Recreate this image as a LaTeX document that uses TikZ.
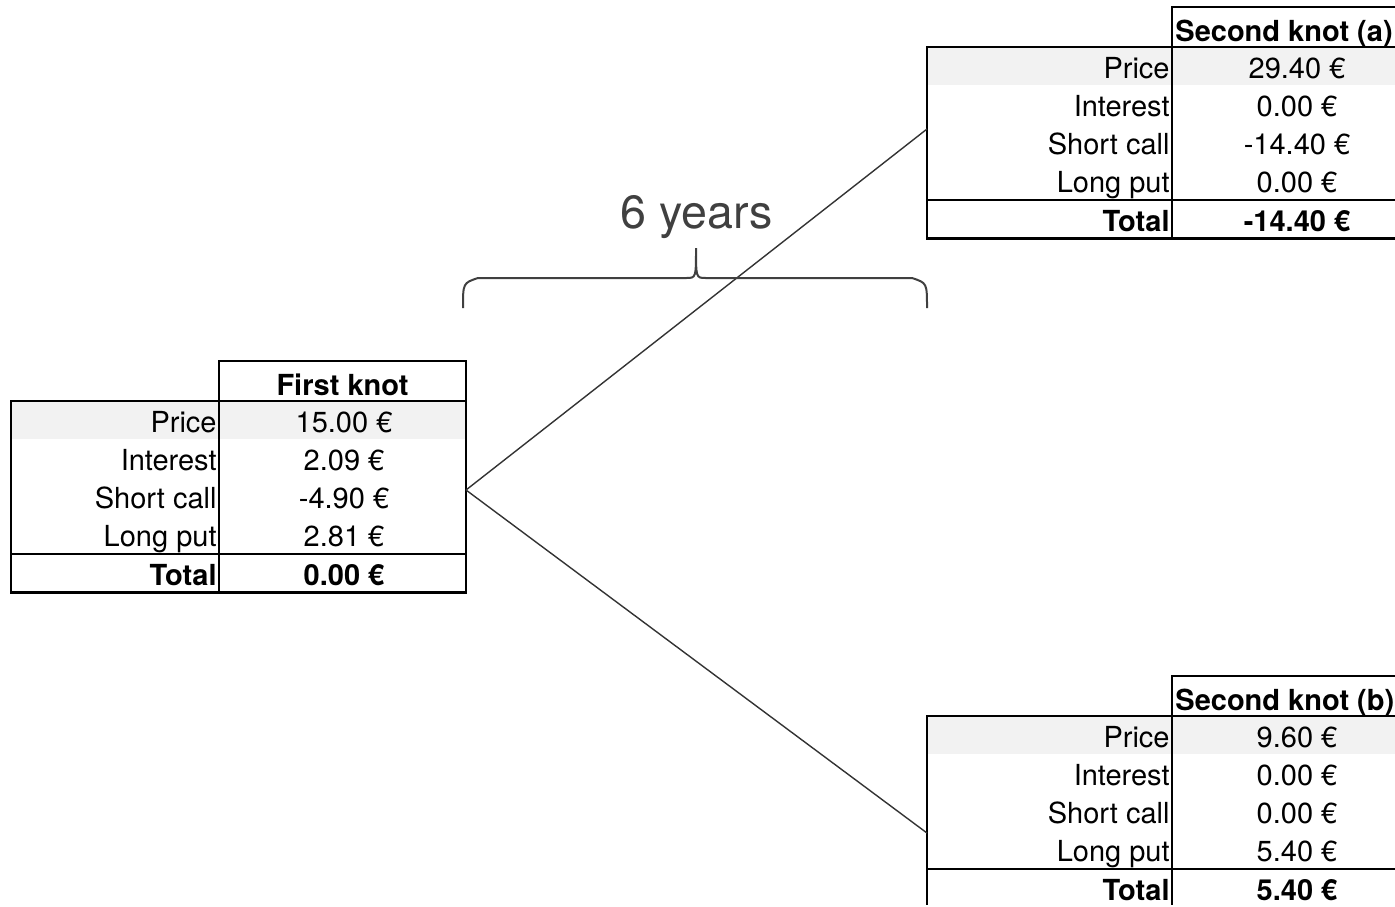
\documentclass[tikz,border=0pt]{standalone}
\usepackage{fontspec}
\setmainfont{TeX Gyre Heros}
\usetikzlibrary{positioning}
\definecolor{rowgray}{HTML}{F2F2F2}
\definecolor{bracegray}{HTML}{404040}

\begin{document}
\begin{tikzpicture}[x=0.5pt, y=-0.5pt,
    tableline/.style={line width=1.4pt, draw=black},
    totalline/.style={line width=0.8pt, draw=black},
    cell/.style={inner sep=0pt, font=\fontsize{14.5}{17}\selectfont},
    rowlabel/.style={cell, anchor=base east},
    rowvalue/.style={cell, anchor=base},
    boldcell/.style={font=\fontsize{14.5}{17}\selectfont\bfseries},
    branch/.style={line width=0.7pt, draw=black!80},
    bracket/.style={line width=1pt, draw=bracegray}]
\useasboundingbox (0,0) rectangle (1395,906);
\clip (0,0) rectangle (1395,904);

% #1 left edge, #2 column line, #3 top, #4-#7 rows, #8 total
\newcommand{\knottable}[8]{
\fill[rowgray] (#1,#3+40) rectangle (#2+247,#3+78.3);
\draw[tableline] (#2,#3) rectangle (#2+247,#3+40);
\draw[tableline] (#1,#3+40) rectangle (#2+247,#3+231.5);
\draw[tableline] (#2,#3+40) -- (#2,#3+231.5);
\draw[totalline] (#1,#3+193.2) -- (#2+247,#3+193.2);
\foreach \lbl/\val [count=\i from 0] in {Price/#4,Interest/#5,Short call/#6,Long put/#7}
{
    \node[rowlabel] at (#2-2,#3+71+38.3*\i) {\lbl};
    \node[rowvalue] at (#2+125,#3+71+38.3*\i) {\val};
}
\node[rowlabel,boldcell] at (#2-2,#3+224.2) {Total};
\node[rowvalue,boldcell] at (#2+125,#3+224.2) {#8};
}

\knottable{11}{219}{361}{15.00 €}{2.09 €}{-4.90 €}{2.81 €}{0.00 €}
\knottable{927}{1172}{7}{29.40 €}{0.00 €}{-14.40 €}{0.00 €}{-14.40 €}
\knottable{927}{1172}{676}{9.60 €}{0.00 €}{0.00 €}{5.40 €}{5.40 €}

\node[cell,boldcell,anchor=base] (head1) at (342.5,395) {First knot};
\node[cell,boldcell,anchor=base west] (head2a) at (1175,41) {Second knot (a)};
\node[cell,boldcell,anchor=base west] (head2b) at (1175,710) {Second knot (b)};

% branches of the tree
\coordinate (knot1) at (466,490);
\coordinate (knot2a) at (927,129);
\coordinate (knot2b) at (927,833);
\draw[branch] (knot1) -- (knot2a);
\draw[branch] (knot1) -- (knot2b);

% time span
\draw[bracket] (463,308) .. controls (463,283) .. (478,278) -- (686,278)
    .. controls (696,278) .. (696,248) .. controls (696,278) .. (706,278)
    -- (912,278) .. controls (927,283) .. (927,308);
\node[inner sep=0pt, anchor=base, text=bracegray,
    font=\fontsize{23.3}{28}\selectfont] (span) at (696.5,228) {6 years};

\end{tikzpicture}
\end{document}
